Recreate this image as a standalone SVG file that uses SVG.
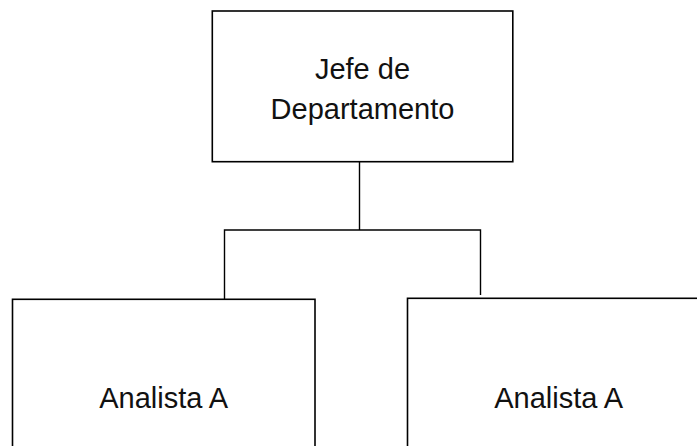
<svg xmlns="http://www.w3.org/2000/svg" width="697" height="446" viewBox="0 0 697 446">
<style>
.box{fill:#ffffff;stroke:#000000;stroke-width:1.6}
.conn{fill:none;stroke:#000000;stroke-width:1.4}
.lbl{font-family:"Liberation Sans",Arial,sans-serif;font-size:29px;fill:#111111;text-anchor:middle}
</style>
<rect width="697" height="446" fill="#ffffff"/>
<g id="connectors">
<path class="conn" d="M359.5,162 V230 M224.5,230 H481 M224.5,229.3 V299 M480.5,229.3 V295"/>
</g>
<g id="node-jefe">
<rect class="box" x="212.3" y="11" width="300.5" height="150.7"/>
<text class="lbl" x="362.5" y="79.3">Jefe de</text>
<text class="lbl" x="362.5" y="118.5">Departamento</text>
</g>
<g id="node-analista-1">
<rect class="box" x="12.5" y="299.3" width="302.5" height="160"/>
<text class="lbl" x="163.7" y="407.7">Analista A</text>
</g>
<g id="node-analista-2">
<rect class="box" x="407.5" y="298.3" width="303" height="160"/>
<text class="lbl" x="558.7" y="407.7">Analista A</text>
</g>
</svg>
